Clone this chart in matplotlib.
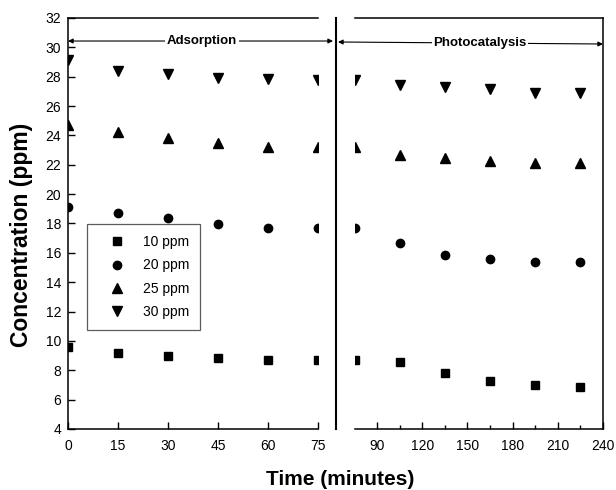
import matplotlib
matplotlib.use("Agg")
import matplotlib.pyplot as plt
from matplotlib.lines import Line2D

plt.rcParams['font.family'] = ['Liberation Sans', 'DejaVu Sans']

# Data
time_ads = [0, 15, 30, 45, 60, 75]
time_photo = [75, 105, 135, 165, 195, 225]
series_labels = ['10 ppm', '20 ppm', '25 ppm', '30 ppm']
ads_10 = [9.61, 9.16, 8.97, 8.82, 8.70, 8.70]
ads_20 = [19.15, 18.70, 18.40, 17.97, 17.72, 17.72]
ads_25 = [24.70, 24.20, 23.80, 23.50, 23.23, 23.20]
ads_30 = [29.15, 28.40, 28.17, 27.93, 27.85, 27.80]
photo_10 = [8.70, 8.54, 7.80, 7.27, 6.98, 6.89]
photo_20 = [17.72, 16.65, 15.86, 15.60, 15.40, 15.36]
photo_25 = [23.20, 22.67, 22.44, 22.26, 22.10, 22.10]
photo_30 = [27.80, 27.44, 27.32, 27.16, 26.90, 26.90]
left_xticks = [0, 15, 30, 45, 60, 75]
right_xticks = [90, 120, 150, 180, 210, 240]
yticks = list(range(4, 33, 2))

markers = ['s', 'o', '^', 'v']
msizes = [5.3, 6.0, 7.2, 7.2]

fig = plt.figure(figsize=(6.16, 4.9), dpi=100)
ax1 = fig.add_axes([0.1104, 0.1245, 0.4058, 0.8388])
ax2 = fig.add_axes([0.5755, 0.1245, 0.4034, 0.8388])
ax1.patch.set_visible(False)
ax2.patch.set_visible(False)

ads = [ads_10, ads_20, ads_25, ads_30]
photo = [photo_10, photo_20, photo_25, photo_30]
for lab, m, ms, ya, yp in zip(series_labels, markers, msizes, ads, photo):
    ax1.plot(time_ads, ya, linestyle='none', marker=m, ms=ms, color='black', label=lab)
    ax2.plot(time_photo, yp, linestyle='none', marker=m, ms=ms, color='black')

for ax in (ax1, ax2):
    ax.set_ylim(4, 32)
    for s in ax.spines.values():
        s.set_linewidth(1.1)
    ax.tick_params(direction='in', length=5, width=1.0, labelsize=10, pad=7)

ax1.set_xlim(0, 75)
ax1.set_xticks(left_xticks)
ax1.set_yticks(yticks)
ax1.spines['right'].set_visible(False)
ax1.tick_params(axis='y', pad=5)

ax2.set_xlim(75, 240)
ax2.set_xticks(right_xticks)
ax2.set_xticks([105, 135, 165, 195, 225], minor=True)
ax2.tick_params(axis='x', which='minor', direction='in', length=3, width=1.0)
ax2.set_yticks([])
ax2.spines['left'].set_visible(False)

# divider line
fig.add_artist(Line2D([0.5455, 0.5455], [0.1245, 0.9633], transform=fig.transFigure,
                      color='black', lw=1.5))

# phase arrows (figure-level so no axes covers them)
arrow_kw = dict(xycoords='figure fraction', textcoords='figure fraction',
                arrowprops=dict(arrowstyle='<|-|>', lw=0.8, color='black',
                                mutation_scale=7, shrinkA=0, shrinkB=0))
fig.add_artist(matplotlib.text.Annotation('', xy=(0.1104, 0.9163), xytext=(0.5406, 0.9163), **arrow_kw))
fig.add_artist(matplotlib.text.Annotation('', xy=(0.5487, 0.9143), xytext=(0.9789, 0.9102), **arrow_kw))
fig.text(0.328, 0.9163, 'Adsorption', ha='center', va='center', fontsize=9.5,
         fontweight='bold', bbox=dict(facecolor='white', edgecolor='none', pad=1))
fig.text(0.779, 0.9123, 'Photocatalysis', ha='center', va='center', fontsize=9.5,
         fontweight='bold', bbox=dict(facecolor='white', edgecolor='none', pad=1))

# axis labels
fig.text(0.552, 0.022, 'Time (minutes)', ha='center', va='center', fontsize=15, fontweight='bold')
fig.text(0.035, 0.52, 'Concentration (ppm)', ha='center', va='center', rotation=90,
         fontsize=16.5, fontweight='bold')

leg = ax1.legend(loc='upper left', bbox_to_anchor=(0.076, 0.499), borderaxespad=0,
                 fontsize=10, frameon=True, fancybox=False, edgecolor='#333333',
                 borderpad=0.8, handlelength=2.7, handletextpad=0.5, labelspacing=0.68)
leg.get_frame().set_linewidth(0.9)

fig.savefig('out.png', dpi=100)
